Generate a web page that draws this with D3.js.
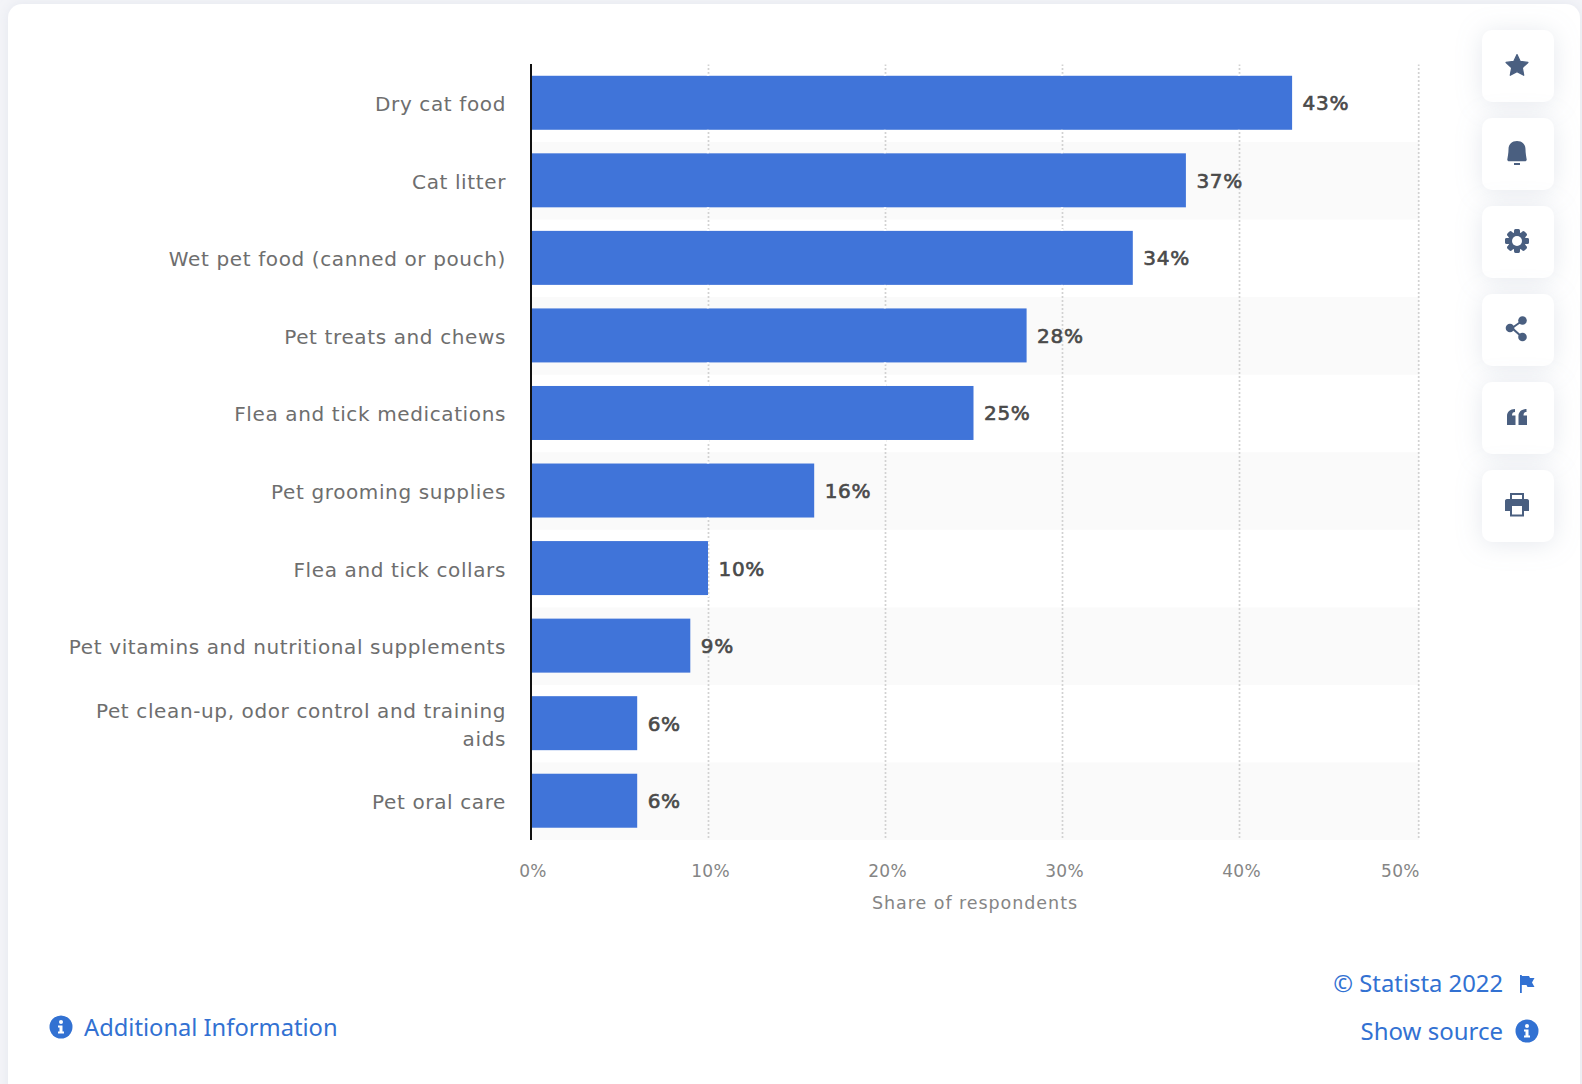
<!DOCTYPE html>
<html><head><meta charset="utf-8">
<script src="https://cdn.jsdelivr.net/npm/d3@7/dist/d3.min.js"></script>
<style>
html,body{margin:0;padding:0;background:#f3f4f8;overflow:hidden}
svg{display:block}
</style></head><body>
<svg id="c" width="1582" height="1084"></svg>
<script>
const categories=["Dry cat food","Cat litter","Wet pet food (canned or pouch)","Pet treats and chews","Flea and tick medications","Pet grooming supplies","Flea and tick collars","Pet vitamins and nutritional supplements","Pet clean-up, odor control and training aids","Pet oral care"];
const categoryLines=[["Dry cat food"],["Cat litter"],["Wet pet food (canned or pouch)"],["Pet treats and chews"],["Flea and tick medications"],["Pet grooming supplies"],["Flea and tick collars"],["Pet vitamins and nutritional supplements"],["Pet clean-up, odor control and training","aids"],["Pet oral care"]];
const values=[43,37,34,28,25,16,10,9,6,6];
const xTicks=[0,10,20,30,40,50];
const axisTitle="Share of respondents";
const icons=["star","bell","gear","share","quote","print"];

const svg=d3.select("#c");
const defs=svg.append("defs");
const f=defs.append("filter").attr("id","card").attr("x","-10%").attr("y","-10%").attr("width","120%").attr("height","120%");
f.append("feDropShadow").attr("dx",0).attr("dy",0).attr("stdDeviation",6).attr("flood-color","#c9cfdd").attr("flood-opacity",.35);
const g2=defs.append("filter").attr("id","btn").attr("x","-60%").attr("y","-60%").attr("width","220%").attr("height","220%");
g2.append("feDropShadow").attr("dx",0).attr("dy",2).attr("stdDeviation",12).attr("flood-color","#aab3c8").attr("flood-opacity",.3);

svg.append("rect").attr("x",8).attr("y",4).attr("width",1572).attr("height",1100).attr("rx",14).attr("fill","#fff").attr("filter","url(#card)");

const M={l:531,r:1419,t:64.5,b:840};
const x=d3.scaleLinear().domain([0,50]).range([M.l,1416]);
const band=d3.scaleBand().domain(categories).range([M.t,M.b]);
const barH=54;
const FONT="'DejaVu Sans',sans-serif";

svg.append("g").selectAll("rect").data(categories.filter((d,i)=>i%2==1)).join("rect")
 .attr("x",M.l).attr("width",M.r-M.l).attr("y",d=>band(d)).attr("height",band.bandwidth()).attr("fill","#fafafa");

const axisG=svg.append("g").attr("transform",`translate(0,${M.b})`)
 .call(d3.axisBottom(x).tickValues(xTicks).tickFormat(d=>d+"%").tickSize(-(M.b-M.t)));
axisG.select(".domain").remove();
axisG.selectAll(".tick").filter(d=>d===50).attr("transform",d=>`translate(${x(d)+2.7},0)`);
axisG.selectAll(".tick line").filter(d=>d===0).remove();
axisG.selectAll(".tick line").attr("stroke","#d2d2d2").attr("stroke-width",1.7).attr("stroke-dasharray","2 2").attr("y1",-2);
axisG.selectAll(".tick text").attr("font-family",FONT).attr("font-size",17).attr("letter-spacing",.3).attr("fill","#858585").attr("dy",0).attr("y",36.5)
 .attr("x",d=>d===50?1:(d===0?1.5:2))
 .attr("text-anchor",d=>d===50?"end":"middle");

const barY=d=>band(d)+(band.bandwidth()-barH)/2-.5;
svg.append("g").selectAll("rect").data(categories).join("rect")
 .attr("x",x(0)).attr("y",barY).attr("height",barH)
 .attr("width",(d,i)=>x(values[i])-x(0)).attr("fill","#4074d9");

svg.append("g").selectAll("g").data(categories.flatMap((c,i)=>xTicks.filter(t=>t>0&&t<=values[i]).map(t=>[c,t]))).join("g").each(function(d){
  const s=d3.select(this), xx=x(d[1]), y0=barY(d[0]);
  s.append("line").attr("x1",xx).attr("x2",xx).attr("y1",y0-2).attr("y2",y0).attr("stroke","#fff").attr("stroke-width",2.4);
  s.append("line").attr("x1",xx).attr("x2",xx).attr("y1",y0+barH).attr("y2",y0+barH+2).attr("stroke","#fff").attr("stroke-width",2.4);
});

svg.append("g").selectAll("text").data(categories).join("text")
 .attr("x",(d,i)=>x(values[i])+10.5).attr("y",d=>band(d)+band.bandwidth()/2+7)
 .attr("font-family",FONT).attr("font-size",20).attr("letter-spacing",.7)
 .attr("fill","#4a4a4a").attr("stroke","#4a4a4a").attr("stroke-width",.65)
 .text((d,i)=>values[i]+"%");

svg.append("line").attr("x1",M.l).attr("x2",M.l).attr("y1",M.t-.5).attr("y2",M.b).attr("stroke","#111").attr("stroke-width",2);

const cat=svg.append("g").selectAll("text").data(categories).join("text")
 .attr("font-family",FONT).attr("font-size",20).attr("letter-spacing",.62).attr("fill","#6e6e6e").attr("text-anchor","end");
cat.each(function(d,i){
  const ls=categoryLines[i], cy=band(d)+band.bandwidth()/2, t=d3.select(this);
  ls.forEach((l,j)=>t.append("tspan").attr("x",506).attr("y",cy+8+(j-(ls.length-1)/2)*28).text(l));
});

svg.append("text").attr("x",975).attr("y",909).attr("text-anchor","middle")
 .attr("font-family",FONT).attr("font-size",17.5).attr("letter-spacing",.95).attr("fill","#858585").text(axisTitle);

const BLUE="#3271d2", FF="'Noto Sans','Open Sans',sans-serif";
svg.append("text").attr("x",84).attr("y",1036).attr("font-family",FF).attr("font-size",23.7).attr("fill",BLUE).text("Additional Information");
svg.append("text").attr("x",1503).attr("y",992).attr("text-anchor","end").attr("font-family",FF).attr("font-size",23.8).attr("fill",BLUE).text("© Statista 2022");
svg.append("text").attr("x",1503).attr("y",1040).attr("text-anchor","end").attr("font-family",FF).attr("font-size",24).attr("fill",BLUE).text("Show source");
function info(cx,cy){
  const g=svg.append("g").attr("transform",`translate(${cx},${cy})`);
  g.append("circle").attr("r",11.5).attr("fill",BLUE);
  g.append("circle").attr("cy",-5).attr("r",2).attr("fill","#fff");
  g.append("path").attr("d","M-3,-1.5H1.5V4.5H3V6.5H-3V4.5H-1.5V0.5H-3Z").attr("fill","#fff");
}
info(61,1027); info(1527,1031);
svg.append("path").attr("transform","translate(1520,975)").attr("fill",BLUE)
 .attr("d","M0,0H1.8V18H0Z M1.8,1H9L10,3H14.5L12,7.5L14.5,12H7.5L6.5,10H1.8Z");

const ICON="#4a5f80";
const btnY=d3.scalePoint().domain(icons).range([30,470]);
const bg=svg.append("g").selectAll("g").data(icons).join("g").attr("transform",d=>`translate(1482,${btnY(d)})`);
bg.append("rect").attr("width",72).attr("height",72).attr("rx",10).attr("fill","#fff").attr("filter","url(#btn)");
const ig=bg.append("g").attr("transform","translate(35,35)").attr("fill",ICON);
const starPts=d3.range(10).map(i=>[i*Math.PI/5,i%2?5.6:11.5]);
ig.filter(d=>d==="star").append("path").attr("d",d3.lineRadial().curve(d3.curveLinearClosed)(starPts)).attr("stroke",ICON).attr("stroke-width",1.2).attr("stroke-linejoin","round").attr("transform","translate(0,1)");
ig.filter(d=>d==="bell").append("path").attr("d","M-9.7,6.5C-9.2,3 -8.5,0 -8.5,-3.5C-8.5,-9 -5,-12 0,-12C5,-12 8.5,-9 8.5,-3.5C8.5,0 9.2,3 9.7,6.5C9.9,7.5 9,8.3 8,8.3H-8C-9,8.3 -9.9,7.5 -9.7,6.5Z M-3,10H3V12H-3Z");
ig.filter(d=>d==="gear").each(function(){
  const g=d3.select(this);
  const a=d3.range(8).map(i=>i*45);
  g.selectAll("rect").data(a).join("rect").attr("x",-2.9).attr("y",-12).attr("width",5.8).attr("height",24).attr("rx",2).attr("transform",d=>`rotate(${d})`);
  g.append("circle").attr("r",9);
  g.append("circle").attr("r",5).attr("fill","#fff");
});
ig.filter(d=>d==="share").each(function(){
  const g=d3.select(this);
  g.append("path").attr("d","M5,-8L-5,-1L5,8").attr("fill","none").attr("stroke",ICON).attr("stroke-width",2);
  [[5.5,-8.5,4.3],[-7,-1,4.3],[5.5,8,4.3]].forEach(c=>g.append("circle").attr("cx",c[0]).attr("cy",c[1]).attr("r",c[2]));
});
ig.filter(d=>d==="quote").append("path").attr("d","M-10,8V-1C-10,-5 -7,-8 -2,-8V-5C-4,-5 -5,-4 -5,-1.5H-1.5V8Z M1.5,8V-1C1.5,-5 4.5,-8 9.5,-8V-5C7.5,-5 6.5,-4 6.5,-1.5H10V8Z");
ig.filter(d=>d==="print").append("path").attr("fill-rule","evenodd").attr("d","M-7,-12H7V-6H-7Z M-5,-10V-6H5V-10Z M-10,-6H10C11.5,-6 12,-5 12,-4V6H7V11.5H-7V6H-12V-4C-12,-5 -11.5,-6 -10,-6Z M-5,1V9.5H5V1Z");
</script>
</body></html>
